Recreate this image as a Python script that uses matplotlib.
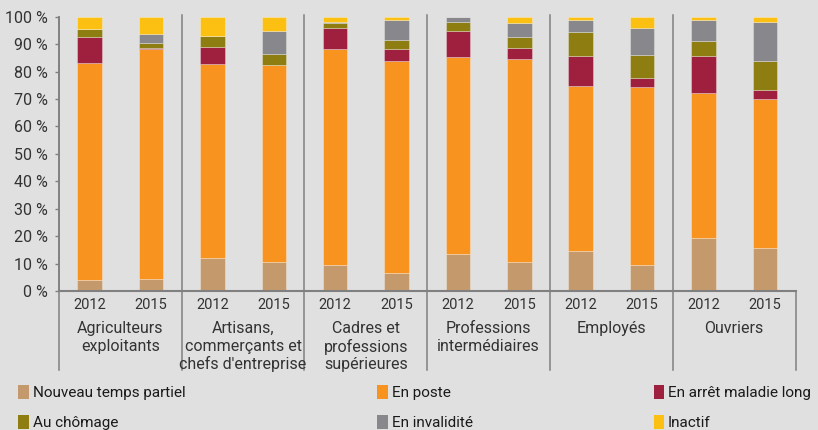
import numpy as np
import matplotlib
matplotlib.use("Agg")
import matplotlib.pyplot as plt
import matplotlib.transforms as mtransforms
from matplotlib.patches import Patch

plt.rcParams['font.family'] = ['Liberation Sans Narrow', 'Roboto', 'DejaVu Sans']

groups = ["Agriculteurs\nexploitants",
          "Artisans,\ncommerçants et\nchefs d'entreprise",
          "Cadres et\nprofessions\nsupérieures",
          "Professions\nintermédiaires",
          "Employés",
          "Ouvriers"]
years = ["2012", "2015"]

# shares in %, order: Agri 12, Agri 15, Artisans 12, 15, Cadres 12, 15, Prof 12, 15, Employes 12, 15, Ouvriers 12, 15
temps_partiel = [3.9, 4.4, 11.9, 10.7, 9.3, 6.4, 13.6, 10.4, 14.4, 9.5, 19.3, 15.6]
en_poste = [79.3, 83.9, 70.7, 71.7, 79.0, 77.4, 71.7, 74.3, 60.4, 64.7, 53.0, 54.4]
arret_maladie = [9.5, 0.3, 6.2, 0.0, 7.7, 4.5, 9.5, 4.0, 11.0, 3.5, 13.5, 3.1]
chomage = [2.7, 1.9, 4.3, 4.1, 1.6, 3.2, 3.4, 3.9, 8.7, 8.2, 5.2, 10.7]
invalidite = [0.0, 3.3, 0.0, 8.4, 0.3, 7.3, 1.8, 5.2, 4.2, 10.1, 7.7, 14.3]
inactif = [4.6, 6.2, 6.9, 5.1, 2.1, 1.2, 0.0, 2.1, 1.3, 4.0, 1.3, 1.9]

series = [
    ("Nouveau temps partiel", temps_partiel, "#c4996b"),
    ("En poste", en_poste, "#f7931e"),
    ("En arrêt maladie long", arret_maladie, "#9f1f3e"),
    ("Au chômage", chomage, "#8e7d10"),
    ("En invalidité", invalidite, "#88888c"),
    ("Inactif", inactif, "#fcc012"),
]

bg = "#e0e0e0"
fig = plt.figure(figsize=(8.18, 4.30), dpi=100, facecolor=bg)
ax = fig.add_axes([0.0721, 0.3233, 0.9004, 0.6379], facecolor=bg)

x = np.arange(len(temps_partiel))
bottom = np.zeros(len(x))
for name, vals, col in series:
    vals = np.array(vals)
    ax.bar(x, vals, width=0.4, bottom=bottom, color=col,
           edgecolor=(1, 1, 1, 0.35), linewidth=0.6, label=name)
    bottom += vals

ax.set_xlim(-0.5, len(x) - 0.5)
ax.set_ylim(0, 100)
ax.set_yticks(np.arange(0, 101, 10))
ax.set_yticklabels([f"{v} %" for v in range(0, 101, 10)])
ax.set_xticks(x)
ax.set_xticklabels(years * len(groups))

ax.tick_params(axis='y', length=3, width=1, color="#808080", pad=5,
               labelsize=11.5, labelcolor="#333333")
ax.tick_params(axis='x', length=0, pad=5, labelsize=10.5, labelcolor="#333333")

for s in ["top", "right"]:
    ax.spines[s].set_visible(False)
ax.spines["left"].set_color("#808080")
ax.spines["left"].set_linewidth(1.2)
ax.spines["bottom"].set_color("#808080")
ax.spines["bottom"].set_linewidth(1.5)

trans = mtransforms.blended_transform_factory(ax.transData, ax.transAxes)
# group separators
for i in range(len(groups) + 1):
    xs = 2 * i - 0.5
    top = 1.006 if 0 < i < len(groups) else 0.0
    if i == 0:
        top = 1.0
    ax.plot([xs, xs], [top, -0.288], transform=trans, color="#808080",
            lw=1.1, clip_on=False)

# group labels
for i, g in enumerate(groups):
    ax.text(2 * i + 0.5, -0.11, g, transform=trans, ha='center', va='top',
            fontsize=11.5, color="#333333", linespacing=1.2)

# legend in three columns
cols = [(0.022, [0, 3]), (0.461, [1, 4]), (0.799, [2, 5])]
for xpos, idx in cols:
    handles = [Patch(facecolor=series[k][2], edgecolor='none') for k in idx]
    labels = [series[k][0] for k in idx]
    fig.legend(handles, labels, loc='upper left', bbox_to_anchor=(xpos, 0.104),
               frameon=False, fontsize=11, handlelength=0.7, handleheight=1.0,
               handletextpad=0.25, labelspacing=0.95, borderaxespad=0,
               borderpad=0, labelcolor="#1a1a1a")

fig.savefig("out.png", dpi=100, facecolor=bg)
